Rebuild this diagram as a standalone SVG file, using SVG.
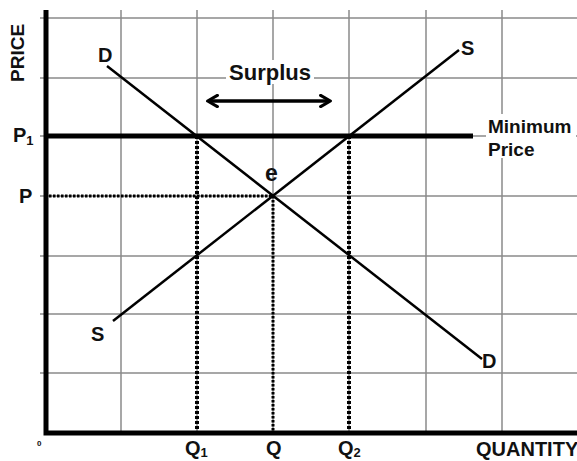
<svg xmlns="http://www.w3.org/2000/svg" width="577" height="461" viewBox="0 0 577 461">
<style>
.grid{stroke:#8a8a8a;stroke-width:1.5;fill:none}
.axis{stroke:#000;stroke-width:5;fill:none}
.curve{stroke:#000;stroke-width:2.5;fill:none}
.dotT{stroke:#000;stroke-width:4;stroke-dasharray:3 2;fill:none}
.dott{stroke:#000;stroke-width:3;stroke-dasharray:2.5 1.5;fill:none}
text{font-family:"Liberation Sans",Arial,sans-serif;font-weight:bold;fill:#111}
.lbl{font-size:20px}
.sub{font-size:13px}
</style>
<defs>
<marker id="ah" viewBox="0 0 10 10" refX="7" refY="5" markerWidth="4" markerHeight="4" orient="auto-start-reverse" markerUnits="strokeWidth">
<path d="M1,1 L8,5 L1,9" fill="none" stroke="#000" stroke-width="2.2" stroke-linecap="round" stroke-linejoin="round"/>
</marker>
</defs>
<rect width="577" height="461" fill="#fff"/>
<g id="grid">
<path class="grid" d="M121,10V433M197,10V433M273,10V433M349,10V433M426,10V433M502,10V433"/>
<path class="grid" d="M40,18H577M40,78H577M40,136H577M40,196H577M40,256H577M40,314H577M40,373H577"/>
</g>
<g id="connectors">
<path class="curve" d="M107,66L482,359"/>
<path class="curve" d="M113,321L459,50"/>
<path class="axis" d="M47,136H473" stroke-width="3.5"/>
<path class="dotT" d="M197,136V431"/>
<path class="dotT" d="M349,136V431"/>
<path class="dott" d="M273,196V431"/>
<path class="dott" d="M49,196H273"/>
<path stroke="#000" stroke-width="3.5" fill="none" d="M209,101H329" marker-start="url(#ah)" marker-end="url(#ah)"/>
<path class="axis" d="M46,10V433H577"/>
</g>
<g id="labels">
<text font-size="19" transform="translate(24,82) rotate(-90)">PRICE</text>
<text class="lbl" x="98" y="62">D</text>
<text class="lbl" x="461" y="55">S</text>
<text class="lbl" x="91" y="341">S</text>
<text class="lbl" x="482" y="368">D</text>
<text x="265" y="181" font-size="23">e</text>
<rect x="226" y="60" width="88" height="24" fill="#fff"/>
<text x="270" y="80" font-size="22" text-anchor="middle">Surplus</text>
<rect x="486" y="114" width="90" height="44" fill="#fff"/>
<text x="488" y="133" font-size="19">Minimum</text>
<text x="488" y="156" font-size="19">Price</text>
<text class="lbl" x="13" y="142">P<tspan class="sub" dy="3">1</tspan></text>
<text class="lbl" x="19" y="203">P</text>
<text x="37" y="446" font-size="8">0</text>
<text class="lbl" x="185" y="455">Q<tspan class="sub" dy="2">1</tspan></text>
<text class="lbl" x="266" y="455">Q</text>
<text class="lbl" x="338" y="455">Q<tspan class="sub" dy="2">2</tspan></text>
<text x="476" y="456" font-size="20">QUANTITY</text>
</g>
</svg>
